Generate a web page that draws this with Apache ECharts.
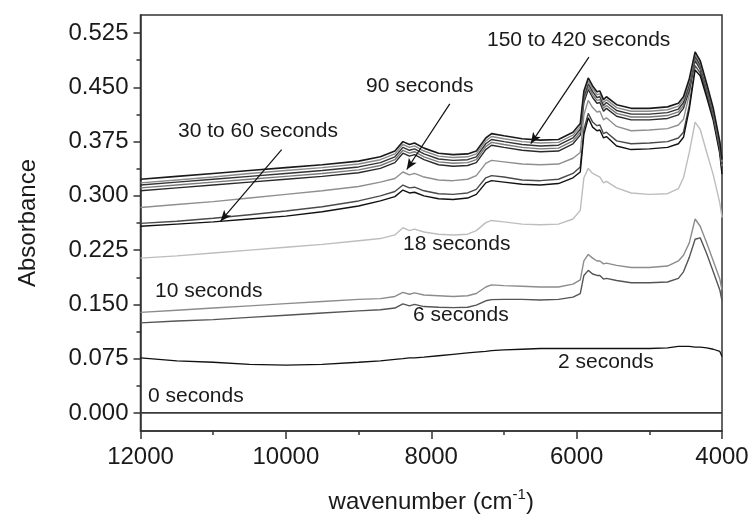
<!DOCTYPE html>
<html>
<head>
<meta charset="utf-8">
<script src="https://cdn.jsdelivr.net/npm/echarts@6/dist/echarts.min.js"></script>
<style>
  html, body { margin: 0; padding: 0; background: #fff; }
  #chart { width: 750px; height: 516px; }
</style>
</head>
<body>
<div id="chart"></div>
<script>
// Wavenumber grid (cm-1) shared by all spectra
const wavenumbers = [12000, 11500, 11000, 10500, 10000, 9500, 9000, 8700, 8500, 8390, 8300, 8230, 8100, 7900, 7700, 7500, 7380, 7250, 7170, 7000, 6750, 6500, 6250, 6050, 5950, 5900, 5840, 5780, 5720, 5680, 5630, 5590, 5450, 5250, 5000, 4750, 4600, 4530, 4450, 4370, 4300, 4210, 4120, 4030, 4000];

// Absorbance spectra recorded at successive times
const s0 = [0,0,0,0,0,0,0,0,0,0,0,0,0,0,0,0,0,0,0,0,0,0,0,0,0,0,0,0,0,0,0,0,0,0,0,0,0,0,0,0,0,0,0,0,0];
const s2 = [0.076,0.072,0.070,0.067,0.066,0.067,0.070,0.072,0.074,0.075,0.076,0.076,0.077,0.079,0.081,0.083,0.084,0.085,0.086,0.087,0.088,0.089,0.089,0.089,0.089,0.089,0.089,0.089,0.089,0.089,0.089,0.089,0.089,0.089,0.089,0.090,0.092,0.092,0.092,0.091,0.091,0.090,0.088,0.085,0.078];
const s6 = [0.1245,0.127,0.129,0.132,0.135,0.138,0.141,0.1425,0.145,0.1507,0.148,0.150,0.147,0.146,0.1455,0.146,0.149,0.155,0.1566,0.157,0.157,0.156,0.157,0.160,0.165,0.190,0.197,0.192,0.190,0.190,0.185,0.186,0.183,0.180,0.180,0.181,0.186,0.195,0.215,0.240,0.242,0.220,0.195,0.170,0.155];
const s10 = [0.139,0.142,0.145,0.148,0.151,0.154,0.157,0.158,0.161,0.1667,0.164,0.166,0.163,0.162,0.161,0.162,0.165,0.174,0.177,0.176,0.175,0.174,0.174,0.178,0.184,0.210,0.219,0.214,0.210,0.210,0.206,0.207,0.204,0.201,0.201,0.203,0.210,0.218,0.235,0.268,0.258,0.235,0.210,0.185,0.170];
const s18 = [0.214,0.217,0.221,0.225,0.229,0.233,0.238,0.241,0.246,0.256,0.252,0.254,0.250,0.247,0.246,0.247,0.252,0.263,0.266,0.264,0.261,0.260,0.261,0.268,0.280,0.325,0.338,0.331,0.328,0.326,0.318,0.320,0.311,0.304,0.302,0.303,0.310,0.325,0.360,0.402,0.392,0.360,0.329,0.290,0.270];
const s30 = [0.262,0.265,0.269,0.274,0.279,0.285,0.293,0.300,0.306,0.315,0.311,0.312,0.307,0.303,0.302,0.304,0.309,0.325,0.328,0.326,0.322,0.321,0.323,0.331,0.340,0.392,0.414,0.402,0.397,0.398,0.386,0.388,0.376,0.372,0.373,0.375,0.380,0.388,0.425,0.480,0.470,0.440,0.408,0.362,0.335];
const s60 = [0.258,0.261,0.264,0.268,0.272,0.278,0.286,0.293,0.299,0.308,0.304,0.305,0.300,0.296,0.295,0.297,0.302,0.318,0.321,0.319,0.316,0.315,0.317,0.325,0.333,0.385,0.408,0.395,0.390,0.391,0.380,0.382,0.369,0.364,0.365,0.367,0.372,0.381,0.420,0.474,0.466,0.436,0.404,0.358,0.330];
const s90 = [0.284,0.288,0.292,0.297,0.302,0.307,0.313,0.319,0.324,0.333,0.329,0.331,0.326,0.322,0.321,0.323,0.328,0.345,0.349,0.347,0.344,0.343,0.344,0.352,0.360,0.412,0.432,0.422,0.416,0.417,0.405,0.408,0.396,0.390,0.391,0.393,0.398,0.406,0.440,0.488,0.478,0.447,0.414,0.368,0.340];
const s150 = [0.307,0.311,0.315,0.319,0.323,0.327,0.332,0.338,0.346,0.359,0.355,0.357,0.350,0.343,0.341,0.342,0.346,0.364,0.370,0.367,0.363,0.361,0.362,0.372,0.384,0.429,0.447,0.436,0.428,0.429,0.417,0.421,0.410,0.405,0.405,0.407,0.412,0.421,0.446,0.487,0.475,0.443,0.409,0.363,0.338];
const s180 = [0.311,0.315,0.319,0.323,0.327,0.331,0.336,0.342,0.350,0.363,0.359,0.361,0.354,0.347,0.345,0.346,0.350,0.368,0.374,0.371,0.367,0.365,0.366,0.376,0.388,0.433,0.451,0.440,0.432,0.433,0.421,0.425,0.414,0.409,0.409,0.411,0.416,0.425,0.450,0.490,0.478,0.446,0.412,0.366,0.341];
const s240 = [0.315,0.319,0.323,0.327,0.331,0.335,0.340,0.346,0.354,0.367,0.363,0.365,0.358,0.351,0.349,0.350,0.354,0.372,0.378,0.375,0.371,0.369,0.370,0.380,0.392,0.437,0.455,0.444,0.436,0.437,0.425,0.429,0.418,0.413,0.413,0.415,0.420,0.429,0.454,0.493,0.481,0.449,0.415,0.369,0.344];
const s300 = [0.318,0.322,0.326,0.331,0.335,0.339,0.344,0.350,0.358,0.371,0.367,0.369,0.362,0.355,0.353,0.354,0.358,0.376,0.382,0.379,0.375,0.373,0.374,0.384,0.396,0.441,0.459,0.448,0.440,0.441,0.429,0.433,0.422,0.417,0.417,0.419,0.424,0.433,0.458,0.496,0.484,0.452,0.418,0.372,0.347];
const s420 = [0.323,0.327,0.331,0.335,0.339,0.343,0.348,0.354,0.362,0.375,0.371,0.373,0.366,0.359,0.357,0.358,0.362,0.380,0.386,0.383,0.379,0.377,0.378,0.388,0.400,0.445,0.463,0.452,0.444,0.445,0.433,0.437,0.426,0.421,0.421,0.423,0.428,0.437,0.462,0.499,0.487,0.455,0.421,0.375,0.350];

// Axis tick values
const yMajorTicks = [0, 0.075, 0.15, 0.225, 0.3, 0.375, 0.45, 0.525];
const yMinorTicks = [0.0375, 0.1125, 0.1875, 0.2625, 0.3375, 0.4125, 0.4875];

// Text annotations and their pointer arrows (wavenumber, absorbance)
const annotations = [
  { text: '150 to 420 seconds', x: 487, y: 40 },
  { text: '90 seconds', x: 366, y: 86 },
  { text: '30 to 60 seconds', x: 178, y: 131 },
  { text: '18 seconds', x: 403, y: 244 },
  { text: '10 seconds', x: 155, y: 291 },
  { text: '6 seconds', x: 413, y: 315 },
  { text: '2 seconds', x: 558, y: 362 },
  { text: '0 seconds', x: 148, y: 396 }
];
const arrows = [
  [[5831, 0.4918], [6630, 0.3723]],
  [[7745, 0.4272], [8337, 0.3365]],
  [[10058, 0.364], [10898, 0.265]]
];

const FONT = '"Liberation Sans", Arial, Helvetica, sans-serif';

const spectra = [
  { name: '0 s', data: s0, color: '#3a3a3a', width: 1.8 },
  { name: '2 s', data: s2, color: '#111111', width: 1.3 },
  { name: '6 s', data: s6, color: '#555555', width: 1.4 },
  { name: '10 s', data: s10, color: '#8c8c8c', width: 1.4 },
  { name: '18 s', data: s18, color: '#bdbdbd', width: 1.4 },
  { name: '30 s', data: s30, color: '#4a4a4a', width: 1.4 },
  { name: '60 s', data: s60, color: '#111111', width: 1.4 },
  { name: '90 s', data: s90, color: '#8f8f8f', width: 1.4 },
  { name: '150 s', data: s150, color: '#2a2a2a', width: 1.4 },
  { name: '180 s', data: s180, color: '#7a7a7a', width: 1.4 },
  { name: '240 s', data: s240, color: '#333333', width: 1.4 },
  { name: '300 s', data: s300, color: '#8a8a8a', width: 1.4 },
  { name: '420 s', data: s420, color: '#1a1a1a', width: 1.6 }
];

const series = spectra.map(function (sp) {
  return {
    name: sp.name,
    type: 'line',
    showSymbol: false,
    symbol: 'none',
    smooth: false,
    silent: true,
    lineStyle: { color: sp.color, width: sp.width },
    data: wavenumbers.map(function (w, i) { return [w, sp.data[i]]; })
  };
});

// pointer arrows attached to the data coordinate system
series.push({
  type: 'line',
  data: [],
  silent: true,
  markLine: {
    silent: true,
    animation: false,
    symbol: ['none', 'arrow'],
    symbolSize: [7, 11],
    label: { show: false },
    lineStyle: { color: '#111', width: 1.2, type: 'solid' },
    emphasis: { disabled: true },
    data: arrows.map(function (a) {
      return [{ coord: a[0] }, { coord: a[1] }];
    })
  }
});

const chart = echarts.init(document.getElementById('chart'), null, { renderer: 'canvas' });

chart.setOption({
  animation: false,
  backgroundColor: '#fff',
  grid: {
    left: 140.5, right: 28, top: 15, bottom: 85,
    show: true, borderColor: '#333', borderWidth: 1.5,
    containLabel: false,
    outerBoundsMode: 'none'
  },
  xAxis: {
    type: 'value',
    inverse: true,
    min: 4000, max: 12000, interval: 2000,
    axisLine: { show: true, onZero: false, lineStyle: { color: '#333', width: 1.5 } },
    axisTick: { show: true, inside: false, length: 8, lineStyle: { color: '#333', width: 1.5 } },
    minorTick: { show: true, splitNumber: 2, length: 4, lineStyle: { color: '#333', width: 1.5 } },
    splitLine: { show: false },
    axisLabel: {
      color: '#1a1a1a', fontSize: 24, fontFamily: FONT, margin: 14,
      formatter: function (v) { return String(v); }
    },
    name: '{n|wavenumber (cm}{s|-1}{n|)}',
    nameLocation: 'middle',
    nameGap: 56,
    nameTextStyle: {
      rich: {
        n: { fontSize: 24, fontFamily: FONT, color: '#1a1a1a', lineHeight: 30 },
        s: { fontSize: 15, fontFamily: FONT, color: '#1a1a1a', verticalAlign: 'top' }
      }
    }
  },
  yAxis: [
    {
      type: 'value',
      min: -0.025, max: 0.55,
      axisLine: { show: true, onZero: false, lineStyle: { color: '#333', width: 1.5 } },
      axisTick: { show: true, length: 7, customValues: yMajorTicks, lineStyle: { color: '#333', width: 1.5 } },
      splitLine: { show: false },
      axisLabel: {
        color: '#1a1a1a', fontSize: 24, fontFamily: FONT, margin: 12,
        customValues: yMajorTicks,
        formatter: function (v) { return v.toFixed(3); }
      },
      name: 'Absorbance',
      nameLocation: 'middle',
      nameGap: 100,
      nameTextStyle: { fontSize: 24, fontFamily: FONT, color: '#1a1a1a' }
    },
    {
      type: 'value',
      position: 'left',
      min: -0.025, max: 0.55,
      axisLine: { show: false },
      axisTick: { show: true, length: 4, customValues: yMinorTicks, lineStyle: { color: '#333', width: 1.5 } },
      axisLabel: { show: false },
      splitLine: { show: false }
    }
  ],
  graphic: annotations.map(function (a) {
    return {
      type: 'text',
      silent: true,
      style: {
        text: a.text, x: a.x, y: a.y,
        font: '21px ' + FONT,
        fill: '#1a1a1a',
        textAlign: 'left', textVerticalAlign: 'middle'
      }
    };
  }),
  series: series
});
</script>
</body>
</html>
